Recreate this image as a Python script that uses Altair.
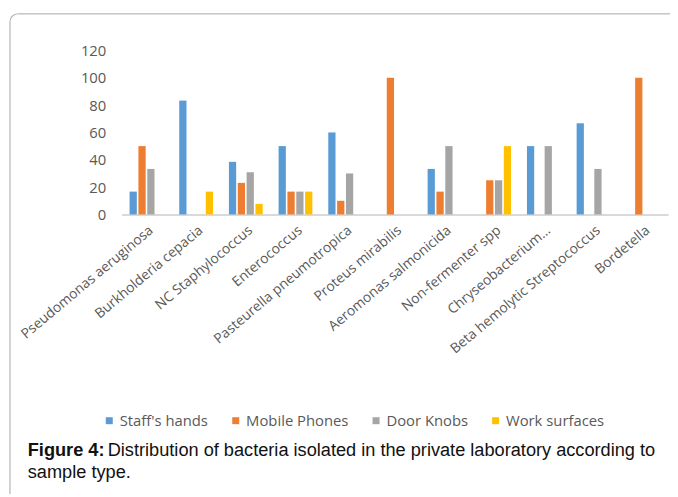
import altair as alt
import pandas as pd

categories = ["Pseudomonas aeruginosa", "Burkholderia cepacia", "NC Staphylococcus",
              "Enterococcus", "Pasteurella pneumotropica", "Proteus mirabilis",
              "Aeromonas salmonicida", "Non-fermenter spp", "Chryseobacterium…",
              "Beta hemolytic Streptococcus", "Bordetella"]
series = ["Staff's hands", "Mobile Phones", "Door Knobs", "Work surfaces"]
staff_hands = [16.7, 83.3, 38.5, 50, 60, 0, 33.3, 0, 50, 66.7, 0]
mobile_phones = [50, 0, 23.1, 16.7, 10, 100, 16.7, 25, 0, 0, 100]
door_knobs = [33.3, 0, 30.8, 16.7, 30, 0, 50, 25, 50, 33.3, 0]
work_surfaces = [0, 16.7, 7.7, 16.7, 0, 0, 0, 50, 0, 0, 0]
colors = ["#5B9BD5", "#ED7D31", "#A5A5A5", "#FFC000"]
y_ticks = [0, 20, 40, 60, 80, 100, 120]

caption_bold = ["Figure 4:"]
caption_line1 = ["Distribution of bacteria isolated in the private laboratory according to"]
caption_line2 = ["sample type."]

rows = []
for s, vals in zip(series, [staff_hands, mobile_phones, door_knobs, work_surfaces]):
    for c, v in zip(categories, vals):
        rows.append({"category": c, "series": s, "value": v})
df = pd.DataFrame(rows)

FONT = "Open Sans"
GREY = "#595959"
FRAME = "#A6A6A6"
CAP = 18.4

bars = alt.Chart(df).mark_bar().encode(
    x=alt.X("category:N", sort=categories, title=None,
            scale=alt.Scale(paddingInner=0.32, paddingOuter=0.16),
            axis=alt.Axis(labelAngle=-40, labelAlign="right", labelBaseline="middle",
                          labelFont=FONT, labelFontSize=14, labelColor=GREY,
                          labelPadding=14, labelOffset=5, ticks=False,
                          domainColor="#D9D9D9", domainWidth=2, labelLimit=300)),
    xOffset=alt.XOffset("series:N", sort=series, scale=alt.Scale(paddingInner=0.18)),
    y=alt.Y("value:Q", title=None,
            scale=alt.Scale(domain=[0, 120], nice=False),
            axis=alt.Axis(values=y_ticks, grid=False, domain=False, ticks=False,
                          labelFont=FONT, labelFontSize=15, labelColor=GREY,
                          labelPadding=16)),
    color=alt.Color("series:N", sort=series, title=None,
                    scale=alt.Scale(domain=series, range=colors),
                    legend=alt.Legend(orient="none", legendX=-20, legendY=367,
                                      direction="horizontal", symbolType="square",
                                      symbolSize=50, symbolStrokeWidth=0,
                                      labelFont=FONT, labelFontSize=15,
                                      labelColor=GREY, columnPadding=20,
                                      labelOffset=3)),
)

one = pd.DataFrame({"k": [0]})
frame_top = alt.Chart(one).mark_rule(color=FRAME, strokeWidth=1).encode(
    x=alt.value(-105), x2=alt.value(555), y=alt.value(-37))
frame_left = alt.Chart(one).mark_rule(color=FRAME, strokeWidth=1).encode(
    x=alt.value(-113), y=alt.value(-29), y2=alt.value(449))
frame_corner = alt.Chart(one).mark_arc(
    color=FRAME, innerRadius=7.5, outerRadius=8.5, theta=4.7124, theta2=6.2832
).encode(x=alt.value(-105), y=alt.value(-29))

cap_df1 = pd.DataFrame({"t": caption_bold})
cap_bold = alt.Chart(cap_df1).mark_text(
    align="left", baseline="middle", font="Liberation Sans", fontSize=CAP,
    fontWeight="bold", color="#111111"
).encode(text="t:N", x=alt.value(-95), y=alt.value(404))

cap_df2 = pd.DataFrame({"t": caption_line1})
cap_l1 = alt.Chart(cap_df2).mark_text(
    align="right", baseline="middle", font="Liberation Sans", fontSize=CAP,
    color="#111111"
).encode(text="t:N", x=alt.value(540), y=alt.value(404))

cap_df3 = pd.DataFrame({"t": caption_line2})
cap_l2 = alt.Chart(cap_df3).mark_text(
    align="left", baseline="middle", font="Liberation Sans", fontSize=CAP,
    color="#111111"
).encode(text="t:N", x=alt.value(-95), y=alt.value(427))

chart = alt.layer(frame_top, frame_left, frame_corner, bars,
                  cap_bold, cap_l1, cap_l2).properties(
    width=553, height=166,
    autosize=alt.AutoSizeParams(type="none"),
    padding={"left": 115, "top": 40, "right": 2, "bottom": 281},
).configure_view(stroke=None)

chart.save("out.html", embed_options={"renderer": "svg", "actions": False})
